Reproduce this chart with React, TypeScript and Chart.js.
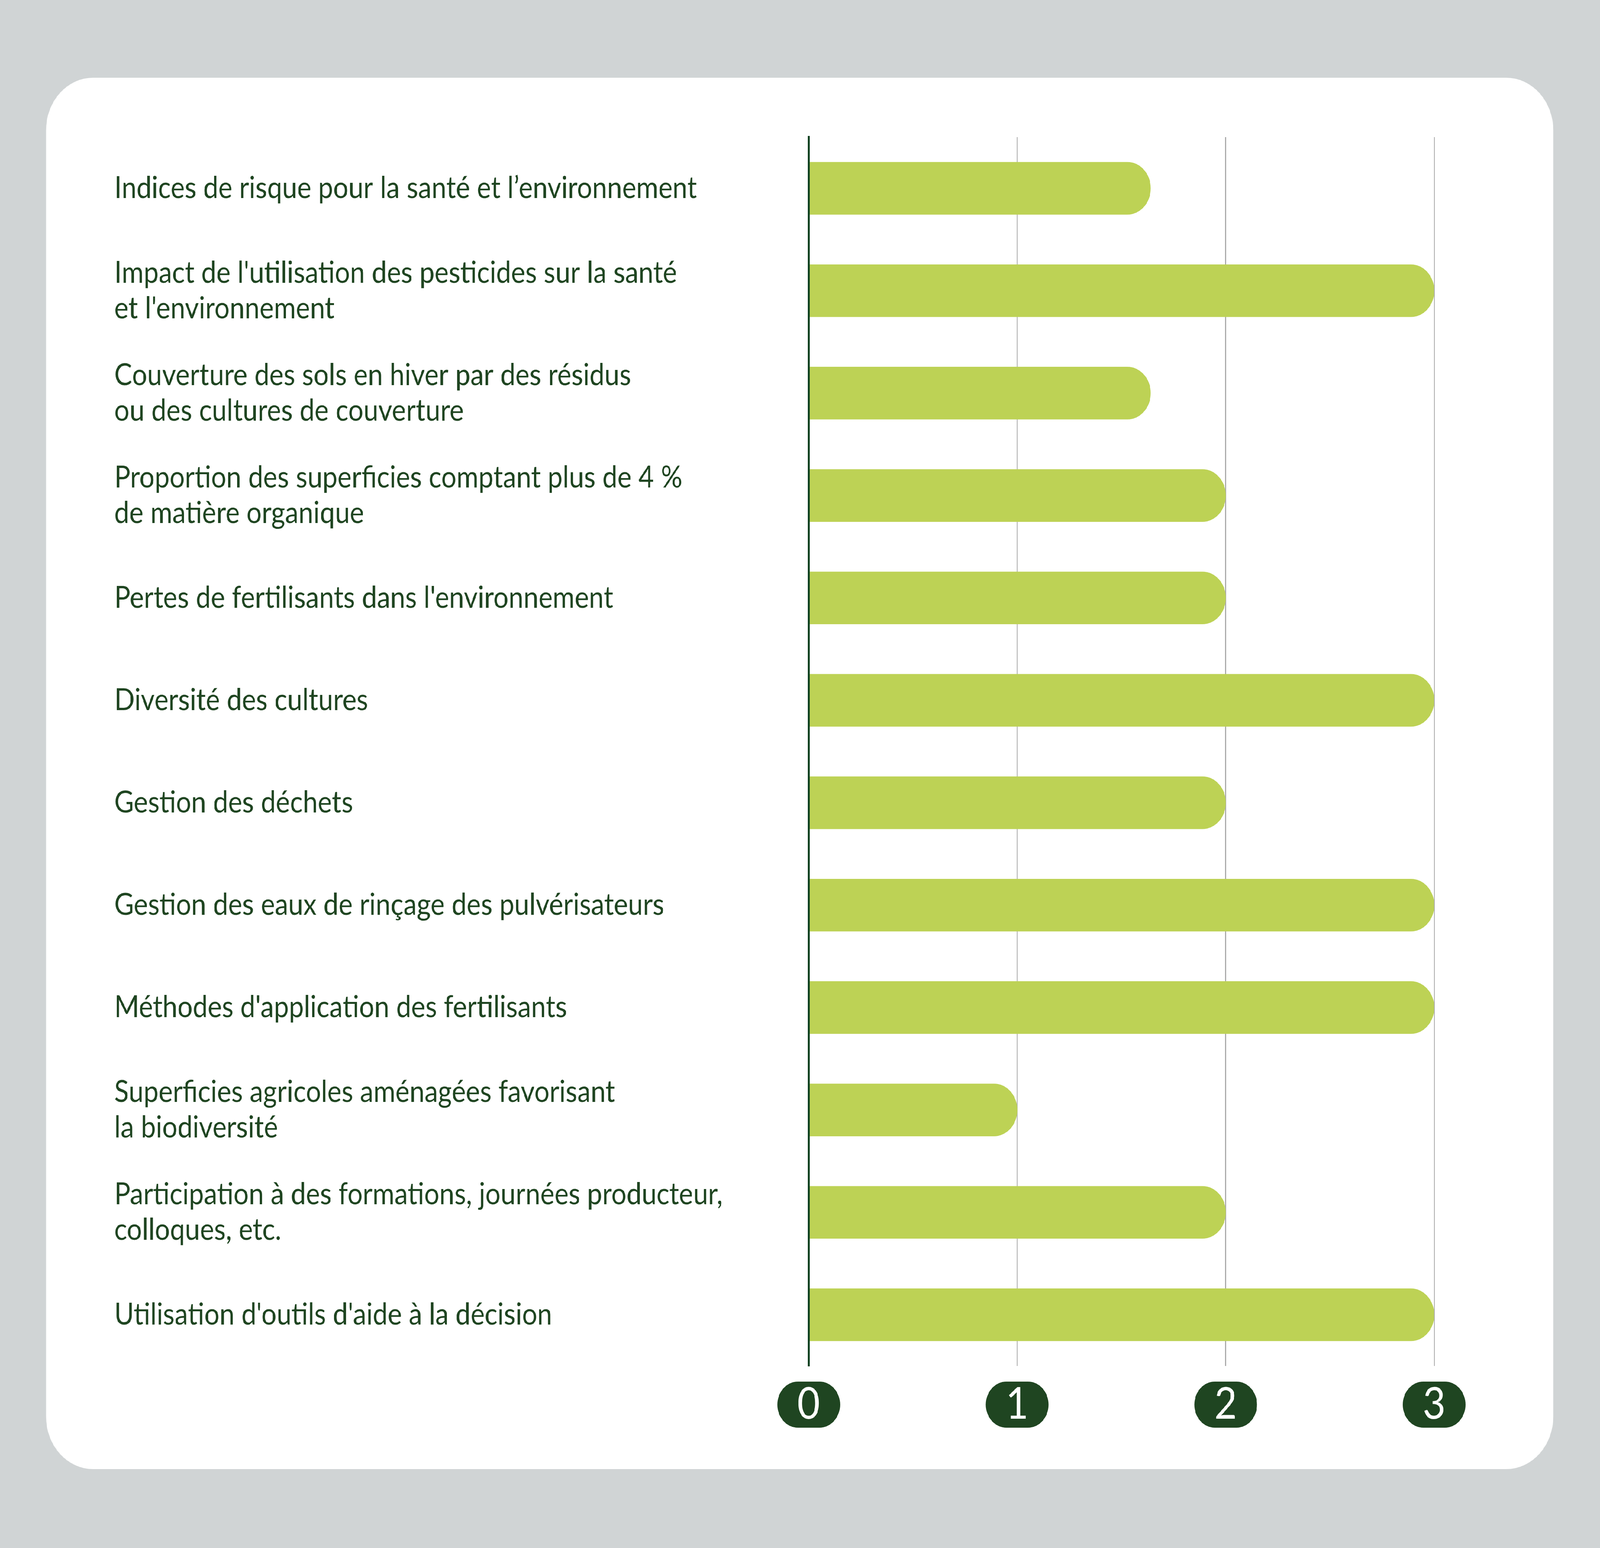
import React, { useEffect, useRef } from 'react';
import { Chart, registerables } from 'chart.js';

Chart.register(...registerables);

const categories: (string | string[])[] = [
  'Indices de risque pour la santé et l’environnement',
  ["Impact de l'utilisation des pesticides sur la santé", "et l'environnement"],
  ['Couverture des sols en hiver par des résidus', 'ou des cultures de couverture'],
  ['Proportion des superficies comptant plus de 4 %', 'de matière organique'],
  "Pertes de fertilisants dans l'environnement",
  'Diversité des cultures',
  'Gestion des déchets',
  'Gestion des eaux de rinçage des pulvérisateurs',
  "Méthodes d'application des fertilisants",
  ['Superficies agricoles aménagées favorisant', 'la biodiversité'],
  ['Participation à des formations, journées producteur,', 'colloques, etc.'],
  "Utilisation d'outils d'aide à la décision",
];

const scores: number[] = [1.64, 3, 1.64, 2, 2, 3, 2, 3, 3, 1, 2, 3];

const xTicks: number[] = [0, 1, 2, 3];

const PAGE_W = 4592;
const PAGE_H = 3963;
const CARD_X = 132;
const CARD_Y = 199;
const CARD_W = 4326;
const CARD_H = 3562;

const DARK = '#1f4521';
const AXIS = '#0e4221';
const BAR = '#bdd255';
const GRID = '#ababab';

const PILL_W = 180;
const PILL_H = 118;
const TICK_FONT = 112;
const TICK_PAD = 43;

const pillPlugin = {
  id: 'pillTicks',
  beforeDraw(chart: any) {
    const xs = chart.scales.x;
    if (!xs) return;
    const ctx = chart.ctx;
    const cy = xs.top + TICK_PAD + TICK_FONT / 2;
    ctx.save();
    ctx.fillStyle = DARK;
    xs.ticks.forEach((t: any) => {
      const cx = xs.getPixelForValue(t.value);
      ctx.beginPath();
      ctx.roundRect(cx - PILL_W / 2, cy - PILL_H / 2, PILL_W, PILL_H, PILL_H / 2);
      ctx.fill();
    });
    ctx.restore();
  },
};

export default function App() {
  const ref = useRef<HTMLCanvasElement | null>(null);
  const hasWin = typeof window !== 'undefined';
  const sx = hasWin && window.innerWidth > 0 ? window.innerWidth / PAGE_W : 1;
  const sy = hasWin && window.innerHeight > 0 ? window.innerHeight / PAGE_H : 1;

  useEffect(() => {
    if (!ref.current) return;
    const chart = new Chart(ref.current, {
      type: 'bar',
      data: {
        labels: categories,
        datasets: [
          {
            data: scores,
            backgroundColor: BAR,
            barThickness: 134,
            borderRadius: 67,
            borderSkipped: 'start',
          },
        ],
      },
      options: {
        indexAxis: 'y',
        animation: false,
        responsive: false,
        devicePixelRatio: 1,
        layout: { padding: { left: 196, top: 152, right: 342, bottom: 64 } },
        plugins: {
          legend: { display: false },
          tooltip: { enabled: false },
        },
        scales: {
          x: {
            type: 'linear',
            position: 'bottom',
            min: 0,
            max: 3,
            afterBuildTicks: (s: any) => {
              s.ticks = xTicks.map((v) => ({ value: v }));
            },
            grid: {
              color: (c: any) => (c.tick && c.tick.value === 0 ? 'rgba(0,0,0,0)' : GRID),
              lineWidth: 3,
              drawTicks: false,
            },
            border: { display: false },
            ticks: {
              color: '#ffffff',
              padding: TICK_PAD,
              font: { family: 'Lato', size: TICK_FONT, lineHeight: 1 },
              callback: (v: any) => String(v),
            },
            afterFit: (s: any) => {
              s.height = 200;
            },
          },
          y: {
            type: 'category',
            offset: true,
            grid: { display: false, drawTicks: false },
            border: { display: true, color: AXIS, width: 6, z: 1 },
            ticks: {
              crossAlign: 'far',
              color: DARK,
              padding: 0,
              font: { family: 'Lato', size: 77, lineHeight: 1.18 },
            },
            afterFit: (s: any) => {
              s.width = 1993;
            },
          },
        },
      },
      plugins: [pillPlugin],
    } as any);
    return () => chart.destroy();
  }, []);

  return (
    <div
      style={{
        position: 'fixed',
        left: 0,
        top: 0,
        width: PAGE_W,
        height: PAGE_H,
        background: '#d0d4d5',
        overflow: 'hidden',
        transform: `scale(${sx}, ${sy})`,
        transformOrigin: '0 0',
      }}
    >
      <div
        style={{
          position: 'absolute',
          left: CARD_X,
          top: CARD_Y,
          width: CARD_W,
          height: CARD_H,
          background: '#ffffff',
          borderRadius: 135,
          overflow: 'hidden',
        }}
      >
        <canvas
          ref={ref}
          width={CARD_W}
          height={CARD_H}
          style={{ display: 'block', width: CARD_W, height: CARD_H }}
        />
      </div>
    </div>
  );
}
